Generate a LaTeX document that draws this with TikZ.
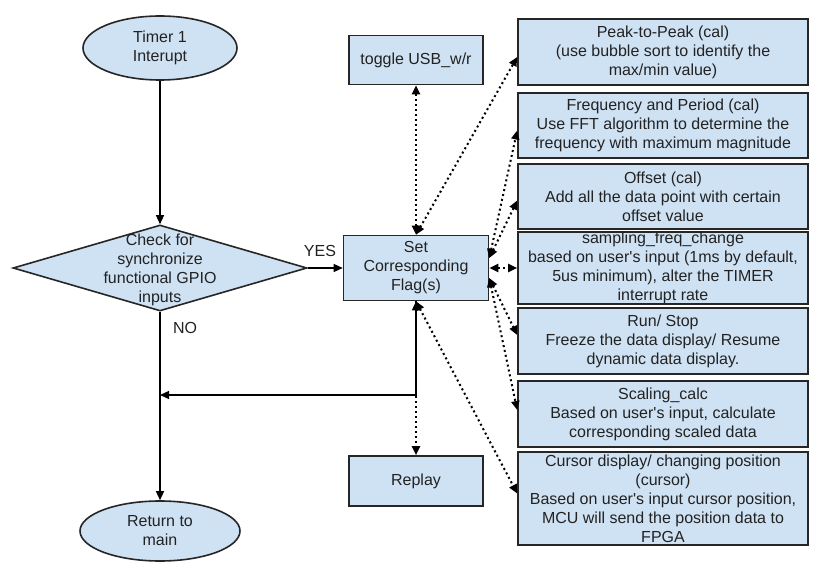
\documentclass[tikz,border=0pt]{standalone}
\usepackage{fontspec}
\setmainfont{Liberation Sans}
\usetikzlibrary{shapes.geometric,arrows.meta}

\definecolor{boxblue}{HTML}{CFE2F3}
\definecolor{inkgray}{HTML}{222222}
\definecolor{edgegray}{HTML}{262626}

\begin{document}
\begin{tikzpicture}
    [x = 1pt, y = -1pt, line width = 1.3pt, >={Triangle[length=9pt,width=8pt]},
     every node/.style = {font=\fontsize{16}{19}\selectfont, text = inkgray, align = center},
     box/.style = {rectangle, draw = edgegray, line width = 1.6pt, fill = boxblue, inner sep = 0pt},
     terminal/.style = {ellipse, draw = edgegray, line width = 1.6pt, fill = boxblue, inner sep = 0pt},
     decision/.style = {diamond, draw = edgegray, line width = 1.6pt, fill = boxblue, inner sep = 0pt},
     calcbox/.style = {box, minimum width = 290pt},
     dotlink/.style = {line width = 2pt, dash pattern = on 2pt off 3pt}]
    \fill[white] (0,0) rectangle (840,580);
    \useasboundingbox (0,0) rectangle (840,580);

    % main flow
    \node[terminal, minimum width = 154pt, minimum height = 64pt] (timer) at (160,48) {Timer 1\\Interupt};
    \node[decision, minimum width = 294pt, minimum height = 86pt] (check) at (160,268) {};
    \node (checktxt) at (160,270) {Check for\\synchronize\\functional GPIO\\inputs};
    \node[terminal, minimum width = 160pt, minimum height = 60pt] (ret) at (160,531) {Return to\\main};
    \node (yes) at (320,251) {YES};
    \node (no) at (185,328) {NO};

    \node[box, minimum width = 145pt, minimum height = 65pt] (flag) at (416,268) {Set\\Corresponding\\Flag(s)};
    \node[box, minimum width = 134pt, minimum height = 49pt] (usb) at (416,60) {toggle USB\_w/r};
    \node[box, minimum width = 134pt, minimum height = 50pt] (replay) at (416,481) {Replay};

    % functions
    \node[calcbox, minimum height = 66pt] (peak) at (663,52) {Peak-to-Peak (cal)\\(use bubble sort to identify the\\max/min value)};
    \node[calcbox, minimum height = 65pt] (freq) at (663,125.5) {Frequency and Period (cal)\\Use FFT algorithm to determine the\\frequency with maximum magnitude};
    \node[calcbox, minimum height = 65pt] (offset) at (663,196.5) {Offset (cal)\\Add all the data point with certain\\offset value};
    \node[calcbox, minimum height = 72pt] (samp) at (663,268) {sampling\_freq\_change\\based on user\textquotesingle s input (1ms by default,\\5us minimum), alter the TIMER\\interrupt rate};
    \node[calcbox, minimum height = 66pt] (runstop) at (663,341) {Run/ Stop\\Freeze the data display/ Resume\\dynamic data display.};
    \node[calcbox, minimum height = 66pt] (scaling) at (663,414) {Scaling\_calc\\Based on user\textquotesingle s input, calculate\\corresponding scaled data};
    \node[calcbox, minimum height = 93pt] (cursor) at (663,498.5) {Cursor display/ changing position\\(cursor)\\Based on user\textquotesingle s input cursor position,\\MCU will send the position data to\\FPGA};

    \coordinate (join) at (160,395);

    \draw[->] (timer) -- (check);
    \draw[->] (check) -- (flag);
    \draw[->] (check) -- (ret);
    \draw[<->] (flag.south) |- (join);
    \draw[dotlink, ->] (flag.south) -- (replay);
    \draw[dotlink, <->] (usb) -- (flag);
    \foreach \from/\fs/\to/\ts in {flag.north/0pt/peak.west/-5pt, flag.east/10pt/freq.west/-5pt,
        flag.east/10pt/offset.west/-4pt, flag.east/0pt/samp.west/0pt,
        flag.east/-10pt/runstop.west/6pt, flag.east/-10pt/scaling.west/4pt,
        flag.south/0pt/cursor.west/5pt}
      \draw[dotlink, <->] ([yshift=\fs]\from) -- ([yshift=\ts]\to);
\end{tikzpicture}
\end{document}
